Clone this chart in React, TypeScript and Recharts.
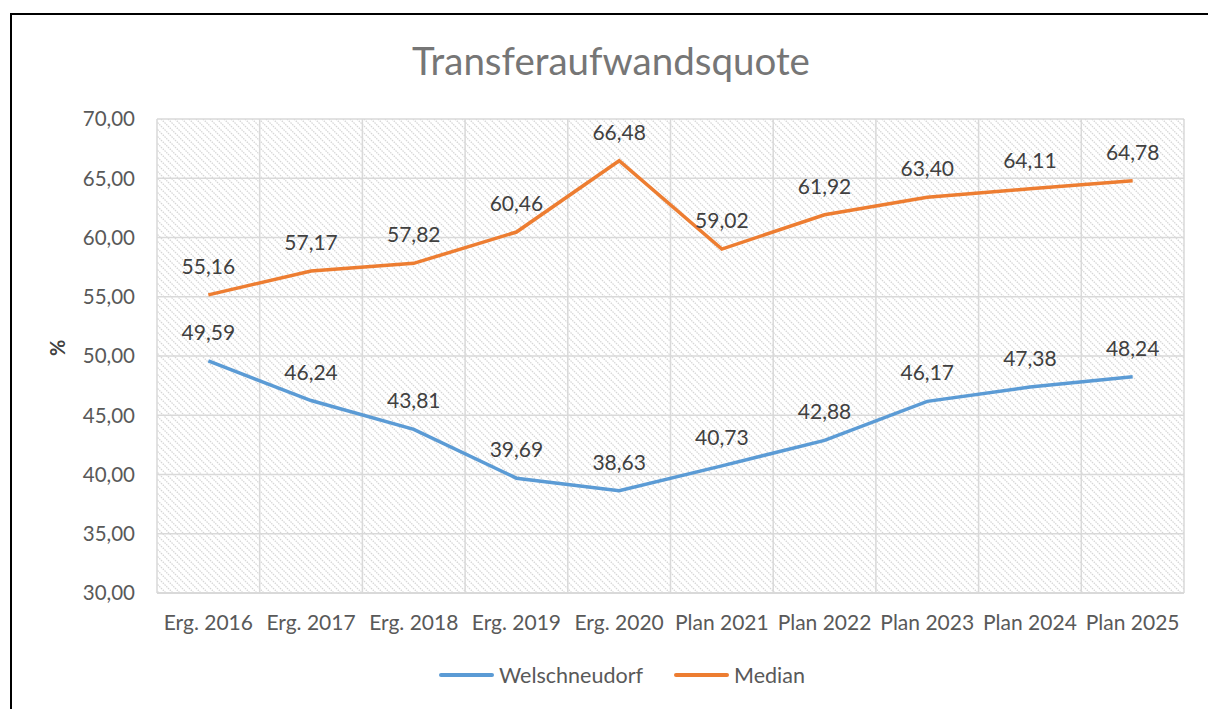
import { LineChart, Line, XAxis, YAxis, CartesianGrid, Legend, LabelList } from 'recharts';

const categories = [
  'Erg. 2016', 'Erg. 2017', 'Erg. 2018', 'Erg. 2019', 'Erg. 2020',
  'Plan 2021', 'Plan 2022', 'Plan 2023', 'Plan 2024', 'Plan 2025',
];
const welschneudorf = [49.59, 46.24, 43.81, 39.69, 38.63, 40.73, 42.88, 46.17, 47.38, 48.24];
const median = [55.16, 57.17, 57.82, 60.46, 66.48, 59.02, 61.92, 63.4, 64.11, 64.78];
const yTicks = [30, 35, 40, 45, 50, 55, 60, 65, 70];

const data = categories.map((name, i) => ({
  idx: i,
  name,
  welschneudorf: welschneudorf[i],
  median: median[i],
}));

const FONT = 'Lato, "Open Sans", sans-serif';
const fmt = (v: number) => v.toFixed(2).replace('.', ',');

const legendItems = [
  { label: 'Welschneudorf', color: '#5B9BD5' },
  { label: 'Median', color: '#ED7D31' },
];

function LegendContent() {
  return (
    <div style={{ height: 40, display: 'flex', justifyContent: 'center', alignItems: 'center', gap: 31, fontFamily: FONT, fontSize: 21.5, color: '#595959' }}>
      {legendItems.map((it) => (
        <div key={it.label} style={{ display: 'flex', alignItems: 'center', gap: 5 }}>
          <span style={{ display: 'inline-block', width: 55, height: 4, borderRadius: 2, background: it.color }} />
          <span>{it.label}</span>
        </div>
      ))}
    </div>
  );
}

export default function App() {
  return (
    <div style={{ position: 'absolute', left: 0, top: 0, width: 1208, height: 709, overflow: 'hidden', background: '#fff' }}>
      <div style={{ position: 'absolute', left: 10, top: 13, width: 1220, height: 720, border: '2px solid #000', boxSizing: 'border-box' }} />
      <div style={{ position: 'absolute', left: 0, top: 37, width: 1222, textAlign: 'center', fontFamily: FONT, fontSize: 38.5, color: '#767676' }}>
        Transferaufwandsquote
      </div>
      <div style={{ position: 'absolute', left: 0, top: 0 }}>
        <LineChart width={1208} height={709} data={data} margin={{ top: 119, right: 24, bottom: 26, left: 60 }}>
          <defs>
            <pattern id="hatch" patternUnits="userSpaceOnUse" width="7" height="7">
              <path d="M0,0 L7,7 M-3.5,3.5 L3.5,10.5 M3.5,-3.5 L10.5,3.5" stroke="#D6D6D6" strokeWidth="1.3" strokeDasharray="1.5 1" />
            </pattern>
          </defs>
          <CartesianGrid
            fill="url(#hatch)"
            stroke="#D9D9D9"
            strokeWidth={1.5}
            verticalCoordinatesGenerator={({ offset }: any) =>
              categories.concat(['']).map((_, i) => offset.left + (i * offset.width) / categories.length)
            }
          />
          <XAxis
            dataKey="idx"
            type="number"
            domain={[-0.5, categories.length - 0.5]}
            ticks={data.map((d) => d.idx)}
            tickFormatter={(v: number) => categories[v]}
            interval={0}
            height={50}
            tickSize={0}
            tickMargin={22}
            axisLine={{ stroke: '#D9D9D9', strokeWidth: 2 }}
            tick={{ fill: '#595959', fontSize: 21, fontFamily: FONT }}
          />
          <YAxis
            domain={[30, 70]}
            ticks={yTicks}
            width={97}
            tickSize={0}
            tickMargin={22}
            axisLine={false}
            tickFormatter={fmt}
            tick={{ fill: '#595959', fontSize: 20.5, fontFamily: FONT }}
            label={{ value: '%', angle: -90, position: 'insideLeft', offset: -2, fill: '#404040', fontSize: 20, fontWeight: 'bold', fontFamily: FONT }}
          />
          <Legend verticalAlign="bottom" wrapperStyle={{ bottom: 14 }} content={<LegendContent />} />
          <Line type="linear" dataKey="welschneudorf" name="Welschneudorf" stroke="#5B9BD5" strokeWidth={3.5} dot={false} isAnimationActive={false}>
            <LabelList dataKey="welschneudorf" position="top" offset={21} formatter={fmt} fill="#404040" fontSize={21} fontFamily={FONT} />
          </Line>
          <Line type="linear" dataKey="median" name="Median" stroke="#ED7D31" strokeWidth={3.5} dot={false} isAnimationActive={false}>
            <LabelList dataKey="median" position="top" offset={21} formatter={fmt} fill="#404040" fontSize={21} fontFamily={FONT} />
          </Line>
        </LineChart>
      </div>
    </div>
  );
}
